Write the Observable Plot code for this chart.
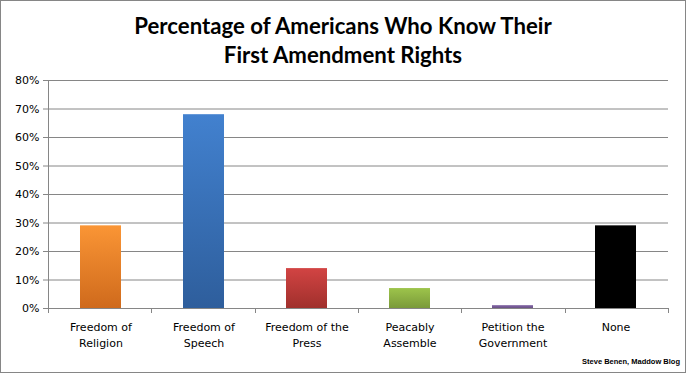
<!DOCTYPE html>
<html><head><meta charset="utf-8">
<script src="https://cdn.jsdelivr.net/npm/d3@7"></script>
<script src="https://cdn.jsdelivr.net/npm/@observablehq/plot@0.6"></script>
<style>
body{margin:0;background:#fff;}
#wrap{position:relative;width:686px;height:373px;box-sizing:border-box;box-shadow:inset 0 0 0 1px #868686;overflow:hidden;background:#fff;}
#title{position:absolute;left:0;top:11px;width:686px;text-align:center;font-family:Lato,"Open Sans",sans-serif;font-weight:700;font-size:22.2px;line-height:29px;color:#000;}
#chart{position:absolute;left:0;top:62px;}
#caption{position:absolute;right:6px;top:357px;font-family:"Liberation Sans",Arial,sans-serif;font-weight:700;font-size:7.5px;color:#000;}
</style></head>
<body><div id="wrap">
<div id="title">Percentage of Americans Who Know Their<br>First Amendment Rights</div>
<div id="chart"></div>
<div id="caption">Steve Benen, Maddow Blog</div>
</div>
<script>
const categories = ["Freedom of\nReligion","Freedom of\nSpeech","Freedom of the\nPress","Peacably\nAssemble","Petition the\nGovernment","None"];
const values = [0.29, 0.68, 0.14, 0.07, 0.01, 0.29];
const yTicks = [0,0.1,0.2,0.3,0.4,0.5,0.6,0.7,0.8];
const gradTop = ["#FA9535","#4281CF","#D24443","#9DC44B","#8468A6","#000000"];
const gradBottom = ["#CF6A1C","#2E5E9C","#A0302C","#7A9A3A","#6A5088","#000000"];

const data = categories.map((c,i)=>({cat:c, value:values[i], fill:`url(#grad${i})`}));
const GRID = "#868686";

const plot = Plot.plot({
  width: 686, height: 300,
  marginLeft: 48, marginRight: 18, marginTop: 18, marginBottom: 54,
  style: {fontFamily: "'DejaVu Sans', Verdana, sans-serif", fontSize: "11px", color: "#000", background: "transparent"},
  x: {domain: categories, paddingInner: 0.6, paddingOuter: 0.3, label: null},
  y: {domain: [0, 0.8], label: null},
  color: {domain: categories, range: data.map(d=>d.fill)},
  marks: [
    Plot.gridY(yTicks, {stroke: GRID, strokeOpacity: 1}),
    Plot.barY(data, {x: "cat", y: "value", fill: "cat"}),
    Plot.ruleY([0], {stroke: GRID, strokeOpacity: 1}),
    Plot.axisY({ticks: yTicks, tickFormat: d3.format(".0%"), tickSize: 5, tickPadding: 4, stroke: GRID, fontSize: 11, label: null}),
    Plot.axisX({tickSize: 0, tickPadding: 11, lineHeight: 1.45, fontSize: 11, label: null})
  ]
});

const svg = d3.select(plot);
const defs = svg.insert("defs", ":first-child");
gradTop.forEach((t,i)=>{
  const g = defs.append("linearGradient").attr("id",`grad${i}`).attr("x1",0).attr("y1",0).attr("x2",0).attr("y2",1);
  g.append("stop").attr("offset","0%").attr("stop-color",t);
  g.append("stop").attr("offset","100%").attr("stop-color",gradBottom[i]);
});
const xs = plot.scale("x"), ys = plot.scale("y");
const x0 = xs.range[0], x1 = xs.range[1];
const yBase = ys.apply(0), yTop = ys.apply(0.8);
const xLinear = d3.scaleLinear().domain([0, categories.length]).range([x0, x1]);
const g = svg.append("g").attr("stroke", GRID);
g.append("line").attr("x1", x0+0.5).attr("x2", x0+0.5).attr("y1", yTop).attr("y2", yBase);
d3.range(categories.length+1).forEach(k=>{
  const xx = Math.round(xLinear(k))+0.5;
  g.append("line").attr("x1", xx).attr("x2", xx).attr("y1", yBase).attr("y2", yBase+5);
});
document.getElementById("chart").appendChild(plot);
</script>
</body></html>
